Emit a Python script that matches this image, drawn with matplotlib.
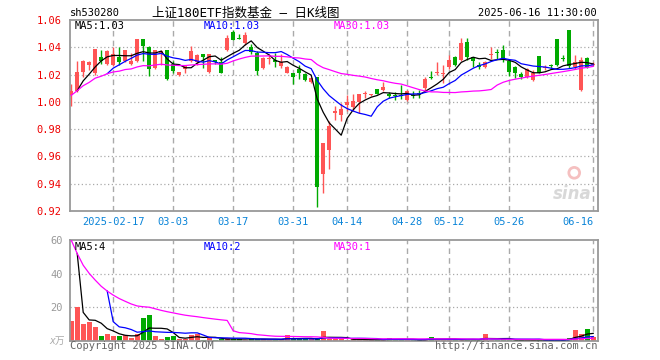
import numpy as np
import pandas as pd
import matplotlib
matplotlib.use('Agg')
import matplotlib.pyplot as plt

plt.rcParams['font.family'] = ['DejaVu Sans Mono', 'Noto Sans CJK SC']

# 日K数据, 2025-02-06 .. 2025-06-16 (88 sessions)
open_ = [1.005, 1.008, 1.022, 1.027, 1.021, 1.033, 1.028, 1.027, 1.033, 1.030,
         1.028, 1.030, 1.046, 1.040, 1.025, 1.036, 1.038, 1.028, 1.020, 1.024,
         1.030, 1.029, 1.035, 1.022, 1.0306, 1.029, 1.038, 1.0515, 1.047, 1.043,
         1.0405, 1.036, 1.025, 1.0315, 1.031, 1.026, 1.0215, 1.0215, 1.024, 1.0207,
         1.0146, 1.018, 0.9472, 0.9648, 0.992, 0.9906, 0.998, 0.9963, 0.9997, 1.006,
         1.005, 1.0096, 1.0084, 1.0054, 1.0045, 1.0045, 1.0017, 1.005, 1.006, 1.0099,
         1.0175, 1.0213, 1.0205, 1.0252, 1.0326, 1.031, 1.0437, 1.0326, 1.0267, 1.0257,
         1.0347, 1.0358, 1.0378, 1.0298, 1.0257, 1.0207, 1.018, 1.016, 1.0336, 1.025,
         1.0267, 1.0464, 1.0318, 1.0526, 1.0252, 1.0084, 1.032, 1.0268]
high = [1.013, 1.030, 1.031, 1.030, 1.039, 1.038, 1.038, 1.040, 1.040, 1.038,
        1.036, 1.046, 1.046, 1.041, 1.038, 1.038, 1.038, 1.030, 1.022, 1.027,
        1.041, 1.035, 1.035, 1.035, 1.031, 1.0326, 1.049, 1.053, 1.050, 1.051,
        1.0425, 1.037, 1.033, 1.035, 1.0356, 1.035, 1.026, 1.0215, 1.027, 1.021,
        1.0185, 1.018, 0.970, 0.9857, 0.997, 0.999, 1.0047, 1.0055, 1.0055, 1.008,
        1.006, 1.0096, 1.0148, 1.0074, 1.0074, 1.012, 1.0085, 1.008, 1.0084, 1.0183,
        1.0227, 1.029, 1.0272, 1.0346, 1.0335, 1.047, 1.047, 1.0328, 1.029, 1.030,
        1.040, 1.039, 1.0415, 1.031, 1.026, 1.022, 1.025, 1.023, 1.0336, 1.027,
        1.028, 1.0464, 1.0343, 1.0526, 1.0344, 1.0326, 1.0326, 1.029]
low = [0.997, 1.007, 1.018, 1.023, 1.020, 1.028, 1.027, 1.026, 1.027, 1.029,
       1.027, 1.029, 1.030, 1.019, 1.024, 1.027, 1.016, 1.021, 1.019, 1.0215,
       1.029, 1.027, 1.0245, 1.021, 1.028, 1.021, 1.037, 1.045, 1.046, 1.042,
       1.035, 1.020, 1.024, 1.028, 1.0255, 1.025, 1.021, 1.0128, 1.0165, 1.0155,
       1.014, 0.9228, 0.9335, 0.951, 0.9865, 0.986, 0.993, 0.993, 0.992, 1.003,
       1.0045, 1.006, 1.0082, 1.0025, 1.0017, 1.002, 1.0005, 1.0025, 1.003, 1.0079,
       1.017, 1.0198, 1.014, 1.024, 1.026, 1.030, 1.031, 1.0252, 1.024, 1.025,
       1.0314, 1.0314, 1.029, 1.019, 1.0178, 1.017, 1.0175, 1.015, 1.021, 1.0235,
       1.025, 1.026, 1.0296, 1.025, 1.024, 1.008, 1.025, 1.026]
close = [1.008, 1.022, 1.030, 1.029, 1.039, 1.030, 1.037, 1.035, 1.029, 1.038,
         1.030, 1.046, 1.041, 1.024, 1.038, 1.037, 1.017, 1.0225, 1.022, 1.0265,
         1.037, 1.034, 1.033, 1.035, 1.029, 1.0215, 1.047, 1.0455, 1.046, 1.0487,
         1.0363, 1.0227, 1.032, 1.032, 1.029, 1.0295, 1.0252, 1.0183, 1.021, 1.0158,
         1.0178, 0.9375, 0.9697, 0.982, 0.9936, 0.995, 0.9997, 1.0005, 1.0054, 1.0062,
         1.0052, 1.006, 1.011, 1.0042, 1.0040, 1.0040, 1.0079, 1.0042, 1.0058, 1.0165,
         1.0173, 1.022, 1.021, 1.031, 1.027, 1.0435, 1.0326, 1.0296, 1.0252, 1.029,
         1.035, 1.0356, 1.031, 1.0217, 1.0215, 1.0183, 1.0242, 1.021, 1.0215, 1.0252,
         1.0265, 1.0272, 1.0317, 1.0262, 1.029, 1.031, 1.0257, 1.0272]
# 成交量, 万手
volume = [11.8, 20.2, 10.0, 11.2, 8.3, 3.2, 4.0, 3.2, 2.8, 3.8,
          1.5, 4.2, 13.6, 15.4, 3.2, 1.4, 2.2, 2.8, 0.9, 1.0,
          3.8, 4.2, 0.7, 1.5, 0.8, 1.0, 1.6, 1.3, 1.0, 0.8,
          1.6, 1.2, 1.0, 0.8, 0.7, 1.0, 3.6, 1.0, 1.0, 1.2,
          1.1, 1.5, 6.0, 1.2, 1.0, 1.0, 0.8, 1.0, 1.2, 0.7,
          0.6, 0.8, 0.9, 1.8, 0.8, 0.9, 0.8, 0.7, 0.6, 1.0,
          2.4, 0.8, 0.7, 1.0, 0.9, 1.0, 0.9, 0.8, 0.6, 4.2,
          0.8, 0.7, 0.9, 0.8, 0.7, 0.6, 0.8, 0.7, 0.9, 0.6,
          0.6, 0.9, 0.6, 1.8, 6.7, 4.2, 7.3, 2.6]

# the three sessions before the window (not drawn, only feed the MA lines)
prior_close = [0.994, 1.0045, 1.0125]
prior_volume = [185.0, 33.7, 9.3]

tick_idx = [7, 17, 27, 37, 46, 56, 63, 73, 87]
tick_lbl = ['2025-02-17', '03-03', '03-17', '03-31', '04-14', '04-28', '05-12', '05-26', '06-16']
price_ticks = [0.92, 0.94, 0.96, 0.98, 1.00, 1.02, 1.04, 1.06]
vol_ticks = [20, 40, 60]

RED = '#ff5555'
GREEN = '#00aa00'
GRID = '#aaaaaa'
FRAME = '#999999'


def ma(vals, prior, n, partial=False):
    s = pd.Series(list(prior) + list(vals))
    m = s.rolling(n, min_periods=1 if partial else n).mean()
    return m.iloc[len(prior):].to_numpy()


x = np.arange(len(close))
o = np.array(open_)
c = np.array(close)
up = c >= o
colors = [RED if u else GREEN for u in up]

ma5 = ma(close, prior_close, 5)
ma10 = ma(close, prior_close, 10)
ma30 = ma(close, prior_close, 30, partial=True)
vma5 = ma(volume, prior_volume, 5)
vma10 = ma(volume, prior_volume, 10)
vma30 = ma(volume, prior_volume, 30, partial=True)

W, H = 660, 360
fig = plt.figure(figsize=(W / 100, H / 100), dpi=100)
fig.patch.set_facecolor('white')


def box(left, top, right, bottom):
    return [left / W, 1 - bottom / H, (right - left) / W, (bottom - top) / H]


ax = fig.add_axes(box(70, 20, 598, 211))
ax2 = fig.add_axes(box(70, 240, 598, 341))

for a in (ax, ax2):
    a.set_xlim(-0.2, 87.8)
    for s in a.spines.values():
        s.set_color(FRAME)
        s.set_linewidth(1.3)
    for t in tick_idx:
        a.axvline(t, color=GRID, lw=1, ls=(0, (4, 3)), zorder=0)
    a.set_xticks([])

# ---- K线 ----
ax.set_ylim(0.92, 1.06)
for p in price_ticks[1:-1]:
    ax.axhline(p, color=GRID, lw=0.9, ls=(0, (1, 2)), zorder=0)
ax.vlines(x, low, high, colors=colors, lw=1, zorder=2)
body = np.maximum(np.abs(c - o), 0.0007)
ax.bar(x, body, bottom=np.minimum(o, c), width=0.75, color=colors, lw=0, zorder=3)
ax.plot(x, ma5, color='black', lw=0.9, zorder=4)
ax.plot(x, ma10, color='#0000ff', lw=0.9, zorder=4)
ax.plot(x, ma30, color='#ff00ff', lw=0.9, zorder=4)
ax.set_yticks(price_ticks)
ax.set_yticklabels(['%.2f' % p for p in price_ticks])
ax.tick_params(axis='y', length=0, pad=6, labelsize=7.5, labelcolor='#ee0000')

for t, lbl in zip(tick_idx, tick_lbl):
    ha = 'right' if t == tick_idx[-1] else 'center'
    ax.text(t, -0.055, lbl, transform=ax.get_xaxis_transform(), ha=ha, va='center',
            fontsize=7.5, color='#0a84d8')

ax.text(0.008, 0.97, 'MA5:%.2f' % ma5[-1], transform=ax.transAxes, fontsize=7.5,
        color='black', va='center')
ax.text(0.254, 0.97, 'MA10:%.2f' % ma10[-1], transform=ax.transAxes, fontsize=7.5,
        color='#0000ff', va='center')
ax.text(0.5, 0.97, 'MA30:%.2f' % ma30[-1], transform=ax.transAxes, fontsize=7.5,
        color='#ff00ff', va='center')

# sina 水印
ax.text(0.988, 0.04, 'sina', transform=ax.transAxes, ha='right', va='bottom',
        fontsize=12, style='italic', weight='bold', color='#d8d8d8', family='DejaVu Sans')
ax.scatter([0.955], [0.2], s=60, transform=ax.transAxes, facecolors='none',
           edgecolors='#f5c0c0', linewidths=2, zorder=1)

# ---- 成交量 ----
ax2.set_ylim(0, 60)
for v in vol_ticks[:-1]:
    ax2.axhline(v, color=GRID, lw=0.9, ls=(0, (1, 2)), zorder=0)
ax2.bar(x, volume, width=0.8, color=colors, lw=0, zorder=2)
ax2.plot(x, vma5, color='black', lw=0.9, zorder=3)
ax2.plot(x, vma10, color='#0000ff', lw=0.9, zorder=3)
ax2.plot(x, vma30, color='#ff00ff', lw=0.9, zorder=3)
ax2.set_yticks(vol_ticks)
ax2.set_yticklabels([str(v) for v in vol_ticks])
ax2.tick_params(axis='y', length=0, pad=5, labelsize=7.5, labelcolor='#999999')

ax2.text(0.008, 0.93, 'MA5:%d' % int(vma5[-1]), transform=ax2.transAxes, fontsize=7.5,
         color='black', va='center')
ax2.text(0.254, 0.93, 'MA10:%d' % int(vma10[-1]), transform=ax2.transAxes, fontsize=7.5,
         color='#0000ff', va='center')
ax2.text(0.5, 0.93, 'MA30:%d' % int(vma30[-1]), transform=ax2.transAxes, fontsize=7.5,
         color='#ff00ff', va='center')

# ---- 标题和页脚 ----
fig.text(70 / W, 1 - 13 / H, 'sh530280', fontsize=7.5, va='center', ha='left')
fig.text(152 / W, 1 - 13 / H, '上证180ETF指数基金 — 日K线图', fontsize=9, va='center',
         ha='left', family=['DejaVu Sans Mono', 'Noto Sans CJK SC'])
fig.text(597 / W, 1 - 13 / H, '2025-06-16 11:30:00', fontsize=7.5, va='center', ha='right')
fig.text(49 / W, 1 - 341 / H, 'x万', fontsize=7, va='center', ha='left', color='#aaaaaa',
         style='italic')
fig.text(70 / W, 1 - 346 / H, 'Copyright 2025 SINA.COM', fontsize=7.5, va='center',
         ha='left', color='#666666')
fig.text(597 / W, 1 - 346 / H, 'http://finance.sina.com.cn', fontsize=7.5, va='center',
         ha='right', color='#666666')

fig.savefig('out.png', dpi=100, facecolor='white')
